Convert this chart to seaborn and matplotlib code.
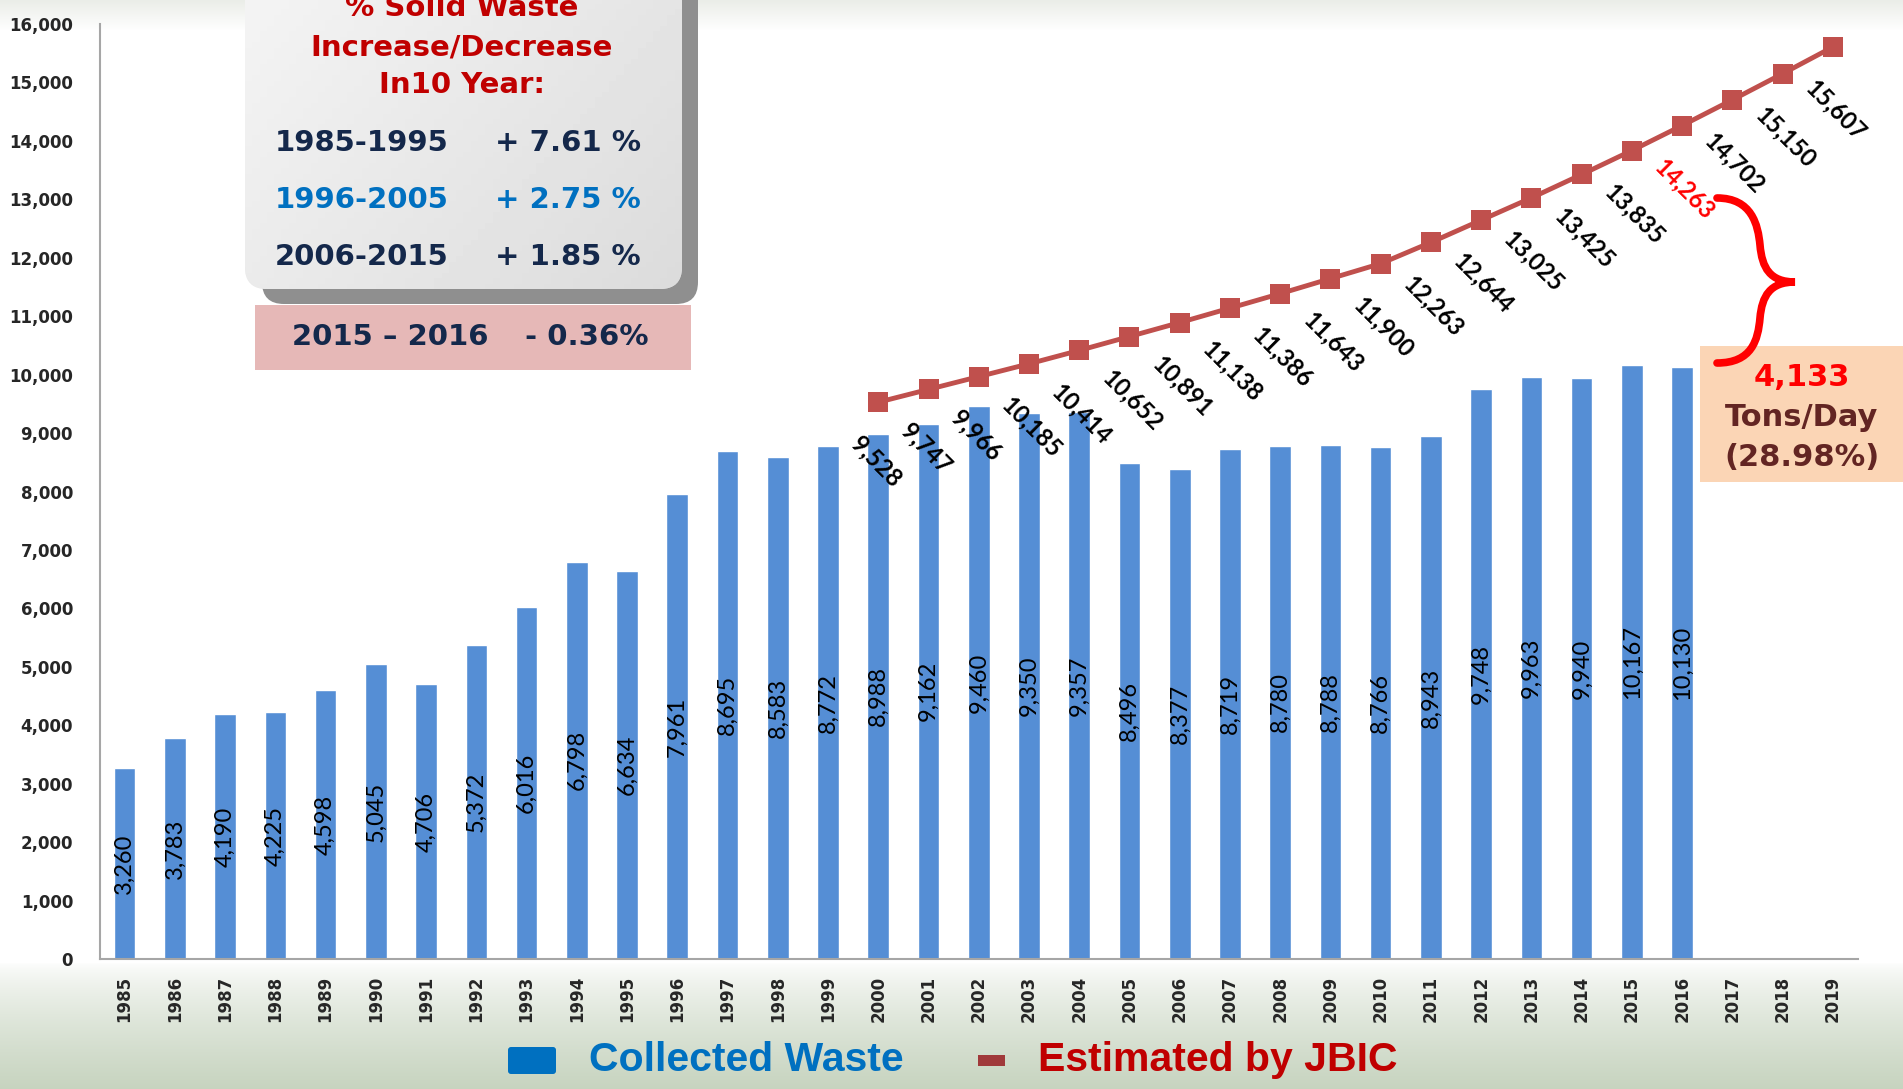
import numpy as np
import pandas as pd
import matplotlib
matplotlib.use('Agg')
import matplotlib.pyplot as plt
import seaborn as sns
from matplotlib.patches import FancyBboxPatch, Rectangle, PathPatch
from matplotlib.path import Path
from matplotlib.ticker import StrMethodFormatter

# data
years = list(range(1985, 2020))
collected_years = list(range(1985, 2017))
collected = [3260, 3783, 4190, 4225, 4598, 5045, 4706, 5372, 6016, 6798, 6634,
             7961, 8695, 8583, 8772, 8988, 9162, 9460, 9350, 9357, 8496, 8377,
             8719, 8780, 8788, 8766, 8943, 9748, 9963, 9940, 10167, 10130]
jbic_years = list(range(2000, 2020))
jbic = [9528, 9747, 9966, 10185, 10414, 10652, 10891, 11138, 11386, 11643,
        11900, 12263, 12644, 13025, 13425, 13835, 14263, 14702, 15150, 15607]
periods = ['1985-1995', '1996-2005', '2006-2015']
period_change = ['+ 7.61 %', '+ 2.75 %', '+ 1.85 %']

W, H = 1903, 1089
sns.set_theme(style='white')
plt.rcParams['font.family'] = ['DejaVu Sans']

fig = plt.figure(figsize=(W / 100, H / 100), dpi=100)

# background: white with faint band on top and greenish grass tone at bottom
bg = fig.add_axes([0, 0, 1, 1], zorder=-5)
rows = np.arange(H)
img = np.ones((H, 1, 3))
top_c = np.array([0.92, 0.93, 0.91])
bot_c = np.array([0.78, 0.83, 0.75])
t = np.clip((30 - rows) / 30, 0, 1)[:, None]
img[:, 0, :] = img[:, 0, :] * (1 - t) + top_c * t
b = np.clip((rows - 962) / (H - 962), 0, 1)[:, None] ** 0.7
img[:, 0, :] = img[:, 0, :] * (1 - b) + bot_c * b
bg.imshow(img, aspect='auto', extent=[0, W, H, 0])
bg.axis('off')

ax = fig.add_axes([99.5 / W, 1 - 959 / H, (1858 - 99.5) / W, (959 - 24) / H])
ax.patch.set_alpha(0)

df = pd.DataFrame({'year': [str(y) for y in collected_years], 'tons': collected})
sns.barplot(data=df, x='year', y='tons', order=[str(y) for y in years],
            color='#558ED5', saturation=1, width=0.43, ax=ax)

pos = [years.index(y) for y in jbic_years]
sns.lineplot(x=pos, y=jbic, ax=ax, color='#C0504D', lw=3.5, marker='s',
             markersize=14, markeredgewidth=0, legend=False)

for y, v in zip(collected_years, collected):
    ax.text(years.index(y), v / 2, f'{v:,}', rotation=90, ha='center', va='center',
            fontsize=17, family='Lato', color='black')

for y, p, v in zip(jbic_years, pos, jbic):
    ax.annotate(f'{v:,}', (p, v), xytext=(-17, -27), textcoords='offset points',
                rotation=-45, rotation_mode='anchor', ha='left', va='center',
                fontsize=17, fontweight='bold', family='Lato',
                color='#FF0000' if y == 2016 else 'black')

ax.set_xlim(-0.5, 34.5)
ax.set_ylim(0, 16000)
ax.set_yticks(range(0, 16001, 1000))
ax.yaxis.set_major_formatter(StrMethodFormatter('{x:,.0f}'))
ax.set_xlabel('')
ax.set_ylabel('')
ax.tick_params(axis='y', length=0, pad=19, labelsize=12)
ax.tick_params(axis='x', length=0, pad=12, labelsize=12, rotation=90)
for lab in ax.get_xticklabels() + ax.get_yticklabels():
    lab.set_fontweight('bold')
for s in ['top', 'right']:
    ax.spines[s].set_visible(False)
for s in ['left', 'bottom']:
    ax.spines[s].set_color('#A6A6A6')
    ax.spines[s].set_linewidth(1.5)

# overlay in pixel coordinates for the annotations
ov = fig.add_axes([0, 0, 1, 1], zorder=5)
ov.set_xlim(0, W)
ov.set_ylim(H, 0)
ov.axis('off')

shadow = FancyBboxPatch((262, -40), 436, 344, boxstyle='round,pad=0,rounding_size=22',
                        fc='#8F8F8F', ec='none')
ov.add_patch(shadow)
box = FancyBboxPatch((245, -40), 437, 329, boxstyle='round,pad=0,rounding_size=22',
                     fc='#E8E8E8', ec='none')
ov.add_patch(box)
gx, gy = np.meshgrid(np.linspace(0, 1, 60), np.linspace(0, 1, 60))
shade = 0.96 - 0.10 * (0.6 * gx + 0.4 * gy)
gimg = ov.imshow(shade, cmap='gray', vmin=0, vmax=1, extent=[245, 682, 289, -40],
                 aspect='auto', zorder=2)
gimg.set_clip_path(box)

for line, yy in zip(['% Solid Waste', 'Increase/Decrease', 'In10 Year:'], [8, 47, 85]):
    ov.text(462, yy, line, ha='center', va='center', fontsize=21, fontweight='bold',
            color='#C00000', zorder=3)
for per, ch, yy, c in zip(periods, period_change, [143, 200, 257],
                          ['#14284B', '#0070C0', '#14284B']):
    ov.text(275, yy, per, ha='left', va='center', fontsize=21, fontweight='bold',
            color=c, zorder=3)
    ov.text(495, yy, ch, ha='left', va='center', fontsize=21, fontweight='bold',
            color=c, zorder=3)

ov.add_patch(Rectangle((255, 305), 436, 65, fc='#E6B8B7', ec='none', zorder=3))
ov.text(292, 337, '2015 – 2016', ha='left', va='center', fontsize=21,
        fontweight='bold', color='#14284B', zorder=4)
ov.text(525, 337, '- 0.36%', ha='left', va='center', fontsize=21,
        fontweight='bold', color='#14284B', zorder=4)

# gap annotation
ov.add_patch(Rectangle((1700, 346), 210, 136, fc='#FBD5B5', ec='none', zorder=2))
ov.text(1802, 377, '4,133', ha='center', va='center', fontsize=22,
        fontweight='bold', color='#FF0000', zorder=3)
ov.text(1802, 418, 'Tons/Day', ha='center', va='center', fontsize=22,
        fontweight='bold', color='#632523', zorder=3)
ov.text(1802, 457, '(28.98%)', ha='center', va='center', fontsize=22,
        fontweight='bold', color='#632523', zorder=3)

brace = Path([(1717, 198), (1752, 198), (1758, 225), (1760, 245),
              (1762, 268), (1770, 282), (1795, 282),
              (1770, 282), (1762, 296), (1760, 318),
              (1758, 340), (1752, 363), (1717, 363)],
             [Path.MOVETO] + [Path.CURVE4] * 12)
ov.add_patch(PathPatch(brace, fc='none', ec='#FF0000', lw=5.5, capstyle='round', zorder=4))

# legend
ov.add_patch(FancyBboxPatch((508, 1047), 48, 27, boxstyle='round,pad=0,rounding_size=3',
                            fc='#0070C0', ec='none'))
ov.text(589, 1060, 'Collected Waste', ha='left', va='center', fontsize=29.5,
        fontweight='bold', family='Liberation Sans', color='#0070C0')
ov.add_patch(Rectangle((978, 1055), 27, 11, fc='#A0393A', ec='none'))
ov.text(1038, 1060, 'Estimated by JBIC', ha='left', va='center', fontsize=29.5,
        fontweight='bold', family='Liberation Sans', color='#C00000')

fig.savefig('out.png', dpi=100)
